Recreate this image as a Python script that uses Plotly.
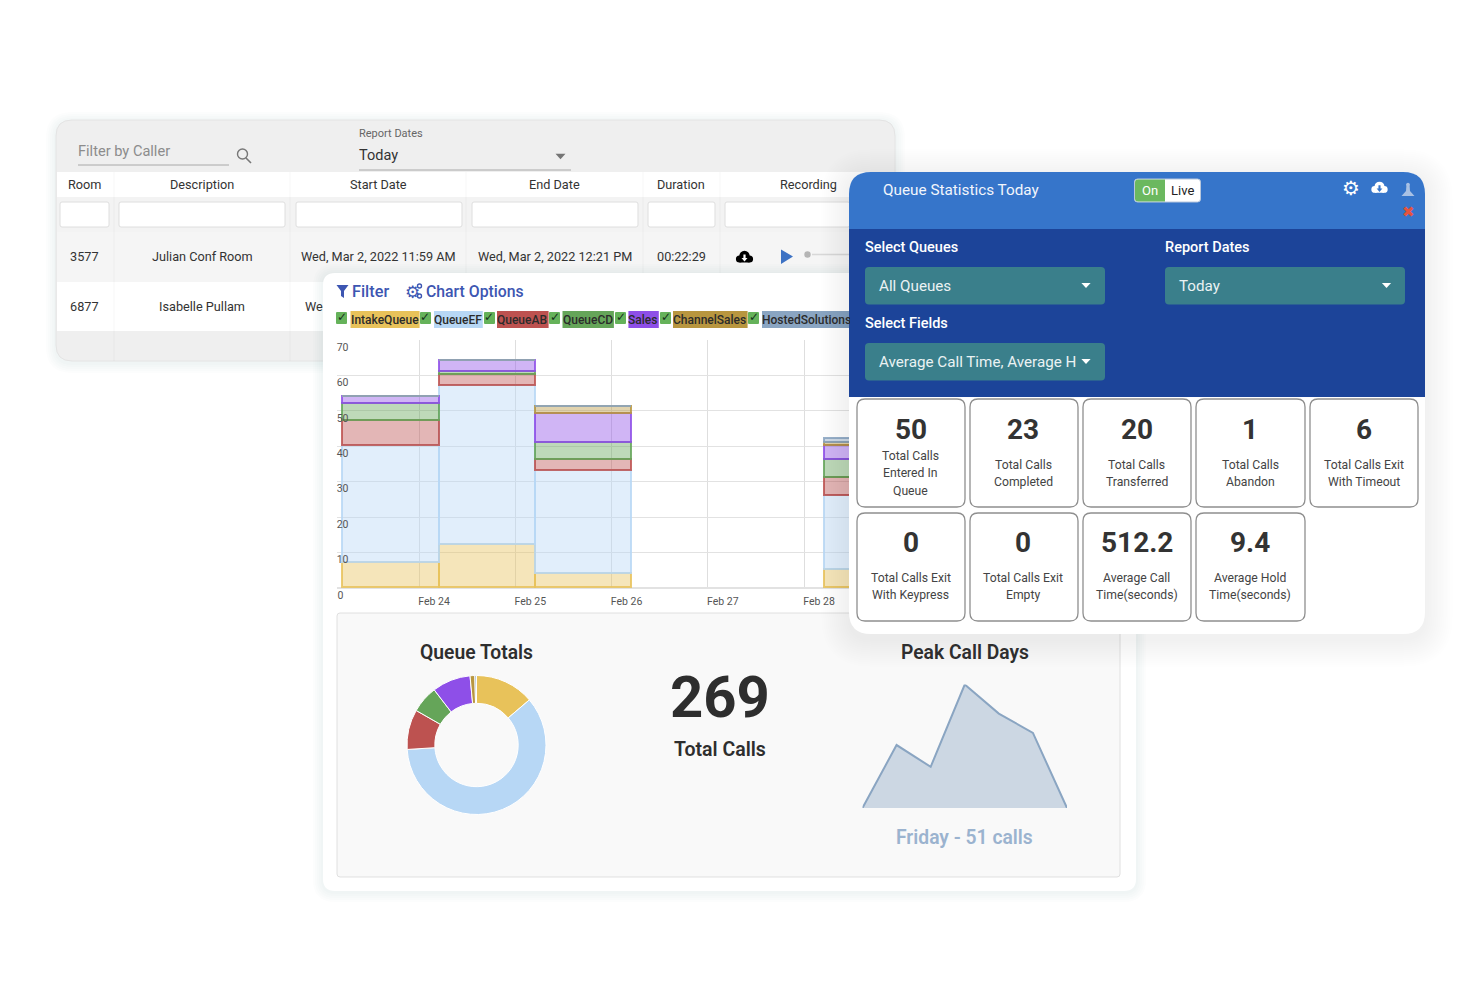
# %%
import plotly.graph_objects as go

W, H = 1480, 987
FONT = "Roboto"

# %%
# Data
days = ["2022-02-23 17:10", "2022-02-24 17:10", "2022-02-25 17:10",
        "2022-02-26 17:10", "2022-02-27 17:10", "2022-02-28 17:10"]
intake_queue = [7, 12, 4, None, None, 5]
queue_ef = [33, 45, 29, None, None, 21]
queue_ab = [7, 3, 3, None, None, 5]
queue_cd = [5, 1, 5, None, None, 5]
sales = [2, 3, 8, None, None, 4]
channel_sales = [0, 0, 2, None, None, 1]
hosted_solutions = [0, 0, 0, None, None, 1]

queue_names = ["IntakeQueue", "QueueEF", "QueueAB", "QueueCD", "Sales",
               "ChannelSales", "HostedSolutions"]
queue_colors = ["#E8C25A", "#B7D7F5", "#BD5250", "#65A559", "#8E4FE8",
                "#B8963F", "#8AA5C2"]
queue_totals = [37, 162, 25, 17, 24, 3, 1]

y_ticks = [0, 10, 20, 30, 40, 50, 60, 70]
# the nbsp keeps the single 0 left aligned with the other labels
y_tick_labels = ["0\u00a0\u00a0", "10", "20", "30", "40", "50", "60", "70"]

week_days = ["Tue", "Wed", "Thu", "Fri", "Sat", "Sun", "Mon"]
day_calls = [0, 26, 17, 51, 39, 31, 0]

table_headers = ["Room", "Description", "Start Date", "End Date", "Duration", "Recording"]
row_one = ["3577", "Julian Conf Room", "Wed, Mar 2, 2022 11:59 AM",
           "Wed, Mar 2, 2022 12:21 PM", "00:22:29"]
row_two = ["6877", "Isabelle Pullam"]

card_values = ["50", "23", "20", "1", "6", "0", "0", "512.2", "9.4"]
card_labels = [["Total Calls", "Entered In", "Queue"], ["Total Calls", "Completed"],
               ["Total Calls", "Transferred"], ["Total Calls", "Abandon"],
               ["Total Calls Exit", "With Timeout"], ["Total Calls Exit", "With Keypress"],
               ["Total Calls Exit", "Empty"], ["Average Call", "Time(seconds)"],
               ["Average Hold", "Time(seconds)"]]


# %%
# Helpers working in screen pixels
def X(px):
    return px / W


def Y(py):
    return 1 - py / H


shapes = []
notes = []


def rrect(x0, y0, x1, y1, r=0, tl=True, tr=True, br=True, bl=True):
    p = "M %f,%f " % (X(x0 + (r if tl else 0)), Y(y0))
    p += "L %f,%f " % (X(x1 - (r if tr else 0)), Y(y0))
    if tr:
        p += "Q %f,%f %f,%f " % (X(x1), Y(y0), X(x1), Y(y0 + r))
    p += "L %f,%f " % (X(x1), Y(y1 - (r if br else 0)))
    if br:
        p += "Q %f,%f %f,%f " % (X(x1), Y(y1), X(x1 - r), Y(y1))
    p += "L %f,%f " % (X(x0 + (r if bl else 0)), Y(y1))
    if bl:
        p += "Q %f,%f %f,%f " % (X(x0), Y(y1), X(x0), Y(y1 - r))
    p += "L %f,%f " % (X(x0), Y(y0 + (r if tl else 0)))
    if tl:
        p += "Q %f,%f %f,%f " % (X(x0), Y(y0), X(x0 + r), Y(y0))
    return p + "Z"


def box(x0, y0, x1, y1, fill="white", r=0, line=None, lw=1, layer="below", **corners):
    shapes.append(dict(type="path", path=rrect(x0, y0, x1, y1, r, **corners),
                       xref="paper", yref="paper", fillcolor=fill, layer=layer,
                       line=dict(color=line or "rgba(0,0,0,0)", width=lw if line else 0)))


def poly(points, fill, layer="below", line=None, lw=0):
    p = "M " + " L ".join("%f,%f" % (X(a), Y(b)) for a, b in points) + " Z"
    shapes.append(dict(type="path", path=p, xref="paper", yref="paper", fillcolor=fill,
                       layer=layer, line=dict(color=line or "rgba(0,0,0,0)", width=lw)))


def seg(x0, y0, x1, y1, color, lw=1, layer="below"):
    shapes.append(dict(type="line", x0=X(x0), x1=X(x1), y0=Y(y0), y1=Y(y1), xref="paper",
                       yref="paper", layer=layer, line=dict(color=color, width=lw)))


def dot(cx, cy, r, fill, layer="below", line=None, lw=0):
    shapes.append(dict(type="circle", x0=X(cx - r), x1=X(cx + r), y0=Y(cy - r), y1=Y(cy + r),
                       xref="paper", yref="paper", fillcolor=fill, layer=layer,
                       line=dict(color=line or "rgba(0,0,0,0)", width=lw)))


def txt(x, y, s, size=13, color="#333333", anchor="center", weight=400, family=FONT, **kw):
    notes.append(dict(x=X(x), y=Y(y), xref="paper", yref="paper", text=s, showarrow=False,
                      xanchor=anchor, yanchor="middle", borderpad=0, borderwidth=0,
                      font=dict(family=family, size=size, color=color, weight=weight), **kw))


def shadow(x0, y0, x1, y1, r, spread, alpha, layer="below", dy=0):
    for i in range(spread, 0, -2):
        box(x0 - i, y0 - i + dy, x1 + i, y1 + i + dy, "rgba(40,50,70,%.4f)" % alpha, r + i, layer=layer)


def cloud(cx, cy, k, color, arrow, layer="below"):
    dot(cx - 5 * k, cy + 1 * k, 3.6 * k, color, layer)
    dot(cx + 5 * k, cy + 1 * k, 3.6 * k, color, layer)
    dot(cx, cy - 2 * k, 5.2 * k, color, layer)
    box(cx - 5 * k, cy, cx + 5 * k, cy + 4.6 * k, color, layer=layer)
    box(cx - 1.1 * k, cy - 3.5 * k, cx + 1.1 * k, cy + 0.5 * k, arrow, layer=layer)
    poly([(cx - 3 * k, cy), (cx + 3 * k, cy), (cx, cy + 3.6 * k)], arrow, layer)


def caret(cx, cy, color, layer="below", s=5):
    poly([(cx - s, cy - s * 0.55), (cx + s, cy - s * 0.55), (cx, cy + s * 0.55)], color, layer)


# %%
# Back panel with the recordings table
shadow(56, 120, 895, 361, 16, 10, 0.012, dy=2)
box(56, 120, 895, 361, "#EFEFEF", 16, line="#E4E4E4")
box(57, 172, 894, 197, "white")
box(57, 197, 894, 232, "#F3F3F3")
box(57, 232, 894, 282, "#F5F5F5")
box(57, 282, 894, 331, "white")
for sep in [114, 290, 466, 643, 720]:
    seg(sep, 172, sep, 361, "rgba(0,0,0,0.035)")
for a, b in [(60, 109), (119, 285), (296, 462), (472, 638), (648, 715), (725, 850)]:
    box(a, 202, b, 227, "white", 2, line="#DEDEDE")

txt(78, 151, "Filter by Caller", 14.6, "#8C8C8C", "left")
seg(78, 165, 229, 165, "#A8A8A8")
dot(242.5, 154, 5, "rgba(0,0,0,0)", line="#777777", lw=1.4)
seg(246, 158, 251, 163, "#777777", 1.6)
txt(358.5, 133.5, "Report Dates", 11, "#666666", "left")
txt(358.5, 155.5, "Today", 14.5, "#333333", "left")
seg(359, 170, 571, 170, "#A8A8A8")
caret(560.5, 156.5, "#757575")

col_x = [84.5, 202, 378, 554.5, 681, 808.5]
for cx, s in zip(col_x, table_headers):
    txt(cx, 184.5, s, 12.7, "#333333")
for cx, s in zip(col_x, row_one):
    txt(cx, 256.5, s, 12.7, "#333333")
for cx, s in zip(col_x, row_two):
    txt(cx, 306.5, s, 12.7, "#333333")
txt(305, 306.5, "We", 12.7, "#333333", "left")
cloud(744.5, 258, 1, "black", "white")
poly([(781, 249.5), (793, 256.5), (781, 264)], "#3D72C4")
dot(807.5, 254.5, 3.2, "#B5B5B5")
seg(812, 254.5, 850, 254.5, "#D8D8D8", 1.5)

# %%
# Chart panel
shadow(323, 273, 1136, 891, 12, 10, 0.012, dy=1)
box(323, 273, 1136, 891, "white", 12)
box(337, 613, 1120, 877, "#F9F9F9", 3, line="#E0E0E0")

poly([(336.5, 285), (348.5, 285), (344, 291), (344, 298), (341, 296), (341, 291)], "#3D56B2")
txt(352, 291.5, "Filter", 16.3, "#3D56B2", "left", 500)
txt(412, 292, "⚙", 17, "#3D56B2", family="DejaVu Sans")
dot(419.5, 286, 2, "white", line="#3D56B2", lw=1.4)
dot(419.5, 296, 2, "white", line="#3D56B2", lw=1.4)
txt(426, 291.5, "Chart Options", 15.8, "#3D56B2", "left", 500)

chip_x = [(350.5, 419.6), (434, 482.8), (497, 548.6), (562.5, 613.9),
          (628.4, 658.8), (673, 747.6), (762, 853)]
check_x = [336, 420, 484, 549, 615, 660, 748]
for (a, b), c, col, name in zip(chip_x, check_x, queue_colors, queue_names):
    box(c, 312, c + 11, 324, "#65B25A", 1)
    txt(c + 5.5, 317, "✓", 12, "#16301A", weight=700, family="DejaVu Sans")
    box(a, 311, b, 328, col)
    txt(a, 319.5, name, 12, "#2B2B2B", "left", 500, width=850 - a if name == "HostedSolutions" else None, align="left")

# %%
# Queue statistics panel, over the bars
shadow(849, 172, 1425, 634, 22, 28, 0.0045, "above", dy=5)
box(849, 172, 1425, 634, "white", 22, layer="above")
box(849, 172, 1425, 229, "#3675CA", 22, layer="above", bl=False, br=False)
box(849, 229, 1425, 397, "#1C4499", layer="above")

txt(883, 189.5, "Queue Statistics Today", 15.3, "#F2F6FC", "left")
box(1134.5, 179, 1200.5, 202, "white", 3, layer="above", line="#B8C7DC")
box(1135, 179.5, 1165, 201.5, "#6BB85F", 3, layer="above", tr=False, br=False)
txt(1150, 190.5, "On", 13, "white")
txt(1182, 190.5, "Live", 13, "#222222")
txt(1350.5, 188.5, "⚙", 20, "white", family="DejaVu Sans")
cloud(1379.5, 188.5, 0.95, "white", "#3675CA", "above")
poly([(1401.5, 196), (1414.5, 196), (1410, 191), (1409.5, 184), (1406.5, 184), (1406, 191)],
     "#A9C1E4", "above")
dot(1408, 184.5, 1.8, "#A9C1E4", "above")
txt(1408, 211.5, "✖", 15, "#E4533E", family="DejaVu Sans")

txt(865, 247.5, "Select Queues", 14.5, "white", "left", 500)
txt(1165, 247.5, "Report Dates", 14.5, "white", "left", 500)
txt(865, 323.5, "Select Fields", 14.5, "white", "left", 500)
for a, y0, s, c in [(865, 267, "All Queues", 1086), (1165, 267, "Today", 1386.5),
                    (865, 343, "Average Call Time, Average H", 1086)]:
    box(a, y0, a + 240, y0 + 37.5, "#3A7F8B", 4, layer="above")
    txt(a + 14, y0 + 18.5, s, 15.2, "#EAF2F3", "left")
    caret(c, y0 + 18.5, "white", "above", 4.6)

card_x = [(857, 965), (970, 1078), (1083, 1191), (1196, 1305), (1310, 1418),
          (857, 965), (970, 1078), (1083, 1191), (1196, 1305)]
for i, (a, b) in enumerate(card_x):
    y0 = 399 if i < 5 else 513
    y1 = y0 + 108
    box(a, y0, b, y1, "white", 8, line="#8F8F8F", lw=1.3, layer="above")
    cx = (a + b) / 2 - 0.5
    txt(cx, y0 + (30.5 if i < 5 else 29.5), card_values[i], 28, "#333333", weight=700)
    first = 57 if len(card_labels[i]) == 3 else (65.5 if i < 5 else 65)
    for k, part in enumerate(card_labels[i]):
        txt(cx, y0 + first + 17.4 * k, part, 12.2, "#444444")

# %%
# Bottom panel texts
txt(476.5, 652.5, "Queue Totals", 19.3, "#2E2E2E", weight=600)
txt(720, 697, "269", 58, "#2E2E2E", weight=700)
txt(720, 749.5, "Total Calls", 19.5, "#2E2E2E", weight=600)
txt(964.5, 652.5, "Peak Call Days", 19.3, "#2E2E2E", weight=600)
txt(964.5, 837, "Friday - 51 calls", 19.3, "#9BB3CF", weight=600)

# %%
# Real chart traces
fig = go.Figure()
series = [intake_queue, queue_ef, queue_ab, queue_cd, sales, channel_sales, hosted_solutions]
for name, vals, col in zip(queue_names, series, queue_colors):
    r, g, b = int(col[1:3], 16), int(col[3:5], 16), int(col[5:7], 16)
    fig.add_trace(go.Bar(x=days, y=vals, name=name, width=86400000,
                         marker=dict(color="rgba(%d,%d,%d,0.42)" % (r, g, b),
                                     line=dict(color="rgba(%d,%d,%d,0.85)" % (r, g, b), width=1.8))))

fig.add_trace(go.Pie(values=queue_totals, labels=queue_names, sort=False, direction="clockwise",
                     rotation=0, hole=0.6, textinfo="none",
                     marker=dict(colors=queue_colors, line=dict(color="white", width=1)),
                     domain=dict(x=[X(407), X(546)], y=[Y(814.5), Y(675.5)])))

fig.add_trace(go.Scatter(x=week_days, y=day_calls, xaxis="x2", yaxis="y2", mode="lines",
                         line=dict(color="#8AA5C2", width=2), fill="tozeroy",
                         fillcolor="rgba(138,165,194,0.40)"))

fig.update_layout(
    width=W, height=H,
    margin=dict(l=0, r=0, t=0, b=0, autoexpand=False),
    paper_bgcolor="white", plot_bgcolor="rgba(0,0,0,0)",
    barmode="stack", bargap=0, showlegend=False,
    font=dict(family=FONT),
    shapes=shapes, annotations=notes,
    xaxis=dict(domain=[X(337), X(895)], type="date", anchor="y", automargin=False,
               range=["2022-02-23 03:33", "2022-02-28 22:41"],
               tick0="2022-02-24", dtick=86400000, tickformat="%b %d",
               showgrid=True, gridcolor="#DEDEDE", gridwidth=1, ticks="", showline=False,
               zeroline=False, ticklabelshift=15, ticklabelstandoff=5,
               tickfont=dict(size=10.5, color="#555555")),
    yaxis=dict(domain=[Y(588), Y(340)], range=[0, 70], tickmode="array", tickvals=y_ticks,
               ticktext=y_tick_labels, anchor="free", position=X(348.5), automargin=False,
               showgrid=True, gridcolor="#E2E2E2", zeroline=True, zerolinecolor="#E2E2E2",
               ticks="", ticklabelshift=7, tickfont=dict(size=10.5, color="#555555")),
    xaxis2=dict(domain=[X(862.5), X(1067)], range=[0, 6], visible=False, anchor="y2",
                type="category", automargin=False),
    yaxis2=dict(domain=[Y(808), Y(684.5)], range=[0, 51], visible=False, anchor="x2",
                automargin=False),
)

fig.write_html("out.html", config=dict(displayModeBar=False),
               post_script="document.body.style.margin='0';")
